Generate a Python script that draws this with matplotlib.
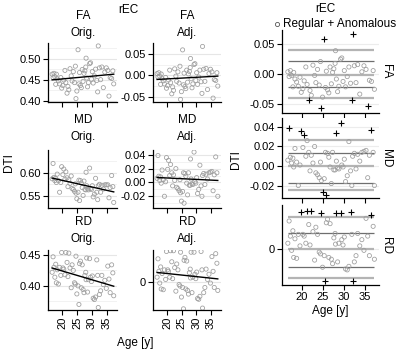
import numpy as np
import matplotlib
matplotlib.use('Agg')
import matplotlib.pyplot as plt

plt.rcParams['font.family'] = ['Liberation Sans', 'DejaVu Sans']
plt.rcParams['font.size'] = 8

# subject ages (shared by all panels)
age = [16.6, 16.9, 17.2, 17.5, 17.8, 18.0, 18.3, 18.7, 19.1, 19.5,
       19.8, 20.2, 20.5, 20.9, 21.2, 21.6, 21.9, 22.2, 22.6, 23.0,
       23.3, 23.7, 24.1, 24.4, 24.6, 24.9, 25.3, 25.6, 25.8, 26.1,
       26.4, 26.7, 27.0, 27.3, 27.6, 28.0, 28.2, 28.5, 28.8, 29.2,
       29.5, 29.8, 30.1, 30.4, 30.8, 31.2, 31.6, 31.9, 32.1, 32.5,
       32.9, 33.3, 33.8, 34.3, 34.8, 35.3, 35.7, 36.1, 36.6, 37.0,
       37.3, 27.9]

fa_orig = [0.463, 0.455, 0.465, 0.457, 0.439, 0.463, 0.452, 0.447, 0.440, 0.455,
           0.430, 0.436, 0.449, 0.472, 0.443, 0.418, 0.434, 0.426, 0.476, 0.459,
           0.447, 0.469, 0.443, 0.482, 0.405, 0.423, 0.521, 0.440, 0.467, 0.436,
           0.431, 0.474, 0.446, 0.465, 0.471, 0.501, 0.454, 0.433, 0.443, 0.488,
           0.490, 0.451, 0.469, 0.442, 0.459, 0.475, 0.448, 0.421, 0.530, 0.478,
           0.450, 0.480, 0.431, 0.468, 0.478, 0.472, 0.411, 0.455, 0.453, 0.471,
           0.440, 0.480]
fa_adj = [0.004, -0.004, 0.006, -0.002, -0.021, 0.003, -0.008, -0.013, -0.020, -0.005,
          -0.030, -0.024, -0.011, 0.012, -0.017, -0.043, -0.027, -0.035, 0.015, -0.002,
          -0.014, 0.008, -0.018, 0.021, -0.056, -0.038, 0.059, -0.022, 0.005, -0.026,
          -0.031, 0.012, -0.016, 0.003, 0.009, 0.039, -0.008, -0.029, -0.020, 0.025,
          0.027, -0.012, 0.006, -0.021, -0.004, 0.012, -0.015, -0.042, 0.067, 0.014,
          -0.014, 0.016, -0.033, 0.004, 0.014, 0.008, -0.053, -0.010, -0.012, 0.006,
          -0.025, 0.018]

md_orig = [0.587, 0.620, 0.590, 0.583, 0.588, 0.579, 0.597, 0.583, 0.558, 0.579,
           0.613, 0.596, 0.608, 0.586, 0.602, 0.589, 0.570, 0.585, 0.577, 0.593,
           0.566, 0.564, 0.560, 0.576, 0.556, 0.544, 0.558, 0.584, 0.540, 0.583,
           0.578, 0.568, 0.551, 0.582, 0.564, 0.601, 0.572, 0.565, 0.563, 0.610,
           0.566, 0.564, 0.572, 0.548, 0.554, 0.588, 0.558, 0.542, 0.572, 0.575,
           0.558, 0.573, 0.565, 0.574, 0.574, 0.574, 0.546, 0.568, 0.594, 0.570,
           0.536, 0.563]
md_adj = [0.006, 0.039, 0.009, 0.003, 0.008, -0.001, 0.018, 0.004, -0.020, 0.001,
          0.036, 0.019, 0.032, 0.010, 0.026, 0.014, -0.005, 0.011, 0.003, 0.020,
          -0.007, -0.009, -0.012, 0.004, -0.015, -0.027, -0.013, 0.014, -0.030, 0.013,
          0.009, -0.001, -0.018, 0.014, -0.004, 0.034, 0.005, -0.002, -0.003, 0.044,
          0.001, -0.001, 0.007, -0.016, -0.010, 0.025, -0.005, -0.020, 0.010, 0.013,
          -0.003, 0.012, 0.005, 0.014, 0.015, 0.016, -0.012, 0.011, 0.037, 0.014,
          -0.020, -0.004]

rd_orig = [0.422, 0.447, 0.430, 0.414, 0.435, 0.405, 0.426, 0.403, 0.430, 0.417,
           0.454, 0.429, 0.427, 0.418, 0.454, 0.438, 0.415, 0.453, 0.429, 0.397,
           0.434, 0.425, 0.405, 0.403, 0.448, 0.387, 0.400, 0.370, 0.436, 0.440,
           0.397, 0.434, 0.394, 0.389, 0.417, 0.410, 0.445, 0.390, 0.410, 0.444,
           0.414, 0.407, 0.416, 0.380, 0.378, 0.382, 0.442, 0.417, 0.365, 0.386,
           0.392, 0.417, 0.402, 0.409, 0.396, 0.432, 0.411, 0.389, 0.434, 0.421,
           0.384, 0.422]
rd_adj = [0.006, 0.031, 0.014, -0.002, 0.020, -0.010, 0.011, -0.011, 0.016, 0.003,
          0.041, 0.016, 0.014, 0.006, 0.042, 0.027, 0.004, 0.042, 0.019, -0.013,
          0.024, 0.016, -0.004, -0.006, 0.040, -0.021, -0.008, -0.037, 0.029, 0.033,
          -0.010, 0.028, -0.012, -0.017, 0.012, 0.005, 0.040, -0.015, 0.006, 0.040,
          0.010, 0.004, 0.013, -0.023, -0.024, -0.020, 0.041, 0.016, -0.036, -0.015,
          -0.008, 0.017, 0.003, 0.010, -0.002, 0.034, 0.014, -0.008, 0.038, 0.025,
          -0.012, 0.017]

# reference levels drawn in the rEC panels (outer, inner, centre, inner, outer)
fa_levels = [-0.039, -0.021, -0.001, 0.0215, 0.041]
md_levels = [-0.0246, -0.0174, 0.0, 0.0137, 0.0267]
rd_levels = [-0.033, -0.021, 0.0, 0.018, 0.036]

W, H = 400, 349
fig = plt.figure(figsize=(W / 100, H / 100), dpi=100)


def px_axes(x0, y0, x1, y1):
    return fig.add_axes([x0 / W, 1 - y1 / H, (x1 - x0) / W, (y1 - y0) / H])


def style(ax):
    for s in ['top', 'right']:
        ax.spines[s].set_visible(False)
    for s in ['left', 'bottom']:
        ax.spines[s].set_linewidth(0.9)
    ax.tick_params(length=3.5, width=0.8, labelsize=8, pad=1.5)
    ax.set_axisbelow(True)


def left_panel(ax, y, ylim, yticks, ylabels, minor, bottom):
    style(ax)
    for m in minor:
        ax.axhline(m, color='#f0f0f0', lw=0.6, zorder=0)
    for t in yticks:
        ax.axhline(t, color='#e6e6e6', lw=0.8, zorder=0)
    ax.scatter(age, y, s=9, facecolors='none', edgecolors='#9c9c9c', linewidths=0.55, zorder=2)
    b, a = np.polyfit(age, y, 1)
    xs = np.array([min(age), max(age)])
    ax.plot(xs, a + b * xs, color='black', lw=1.0, zorder=3)
    ax.set_xlim(15.2, 38.4)
    ax.set_ylim(*ylim)
    ax.set_xticks([20, 25, 30, 35])
    ax.set_yticks(yticks)
    ax.set_yticklabels(ylabels)
    if bottom:
        ax.set_xticklabels(['20', '25', '30', '35'], rotation=90)
    else:
        ax.set_xticklabels([])


col_x = [(48, 117), (153, 221)]
row_y = [(43, 102), (150, 208), (250, 310)]

ax = px_axes(col_x[0][0], row_y[0][0], col_x[0][1], row_y[0][1])
left_panel(ax, fa_orig, (0.397, 0.537), [0.40, 0.45, 0.50], ['0.40', '0.45', '0.50'],
           [0.425, 0.475, 0.525], False)
ax = px_axes(col_x[1][0], row_y[0][0], col_x[1][1], row_y[0][1])
left_panel(ax, fa_adj, (-0.062, 0.075), [-0.05, 0.0, 0.05], ['-0.05', '0.00', '0.05'],
           [-0.025, 0.025], False)
ax = px_axes(col_x[0][0], row_y[1][0], col_x[0][1], row_y[1][1])
left_panel(ax, md_orig, (0.524, 0.649), [0.55, 0.60], ['0.55', '0.60'],
           [0.575, 0.625], False)
ax = px_axes(col_x[1][0], row_y[1][0], col_x[1][1], row_y[1][1])
left_panel(ax, md_adj, (-0.037, 0.047), [-0.02, 0.0, 0.02, 0.04], ['-0.02', '0.00', '0.02', '0.04'],
           [-0.03, -0.01, 0.01, 0.03], False)
ax = px_axes(col_x[0][0], row_y[2][0], col_x[0][1], row_y[2][1])
left_panel(ax, rd_orig, (0.361, 0.458), [0.40, 0.45], ['0.40', '0.45'],
           [0.375, 0.425], True)
ax = px_axes(col_x[1][0], row_y[2][0], col_x[1][1], row_y[2][1])
left_panel(ax, rd_adj, (-0.0386, 0.043), [0.0], ['0'], [], True)

# column / row titles
for cx, sub in [(83, 'Orig.'), (187, 'Adj.')]:
    for (ty, name) in [(16, 'FA'), (120, 'MD'), (222, 'RD')]:
        fig.text(cx / W, 1 - ty / H, name, ha='center', va='center', fontsize=8.5)
        fig.text(cx / W, 1 - (ty + 17) / H, sub, ha='center', va='center', fontsize=8.5)
fig.text(128 / W, 1 - 10 / H, 'rEC', ha='center', va='center', fontsize=8.5)
fig.text(9 / W, 1 - 163 / H, 'DTI', ha='center', va='center', rotation=90, fontsize=8.5)
fig.text(135 / W, 1 - 343 / H, 'Age [y]', ha='center', va='center', fontsize=8.5)

# right column: rEC panels with reference levels and anomalies
right_rows = [(30, 113), (118, 198), (205, 285)]
right_data = [
    ('FA', fa_adj, fa_levels, (-0.0644, 0.0734), [-0.05, 0.0, 0.05], ['-0.05', '0.00', '0.05']),
    ('MD', md_adj, md_levels, (-0.0328, 0.0492), [-0.02, 0.0, 0.02, 0.04], ['-0.02', '0.00', '0.02', '0.04']),
    ('RD', rd_adj, rd_levels, (-0.041, 0.049), [0.0], ['0']),
]
for i, (name, vals, levels, ylim, yt, yl) in enumerate(right_data):
    ax = px_axes(282, right_rows[i][0], 379, right_rows[i][1])
    style(ax)
    for t in yt:
        ax.axhline(t, color='#ececec', lw=0.8, zorder=0)
    v = np.array(vals)
    a = np.array(age)
    for k, lv in enumerate(levels):
        if k in (1, 3):
            ax.hlines(lv, a.min(), a.max(), color='#6e6e6e', lw=0.9, zorder=1)
        else:
            ax.hlines(lv, a.min(), a.max(), color='#b4b4b4', lw=1.6, zorder=1)
    anom = (v > levels[-1]) | (v < levels[0])
    ax.scatter(a[~anom], v[~anom], s=9, facecolors='none', edgecolors='#9c9c9c',
               linewidths=0.55, zorder=2)
    ax.scatter(a[anom], v[anom], s=22, marker='+', color='black', linewidths=0.8, zorder=3)
    ax.set_xlim(15.2, 38.4)
    ax.set_ylim(*ylim)
    ax.set_xticks([20, 25, 30, 35])
    ax.set_yticks(yt)
    ax.set_yticklabels(yl)
    if i < 2:
        ax.set_xticklabels([])
    ax.yaxis.set_label_position('right')
    ax.set_ylabel(name, rotation=-90, labelpad=9, fontsize=8.5)

fig.text(325 / W, 1 - 9 / H, 'rEC', ha='center', va='center', fontsize=8.5)
fig.text(283 / W, 1 - 24 / H, 'Regular + Anomalous', ha='left', va='center', fontsize=8.5)
fig.lines.append(plt.Line2D([277 / W], [1 - 24 / H], transform=fig.transFigure, marker='o',
                            markersize=3, markerfacecolor='none', markeredgecolor='#555555',
                            markeredgewidth=0.6, linestyle='none'))
fig.text(236 / W, 1 - 160 / H, 'DTI', ha='center', va='center', rotation=90, fontsize=8.5)
fig.text(330 / W, 1 - 311 / H, 'Age [y]', ha='center', va='center', fontsize=8.5)

fig.savefig('out.png', dpi=100)
